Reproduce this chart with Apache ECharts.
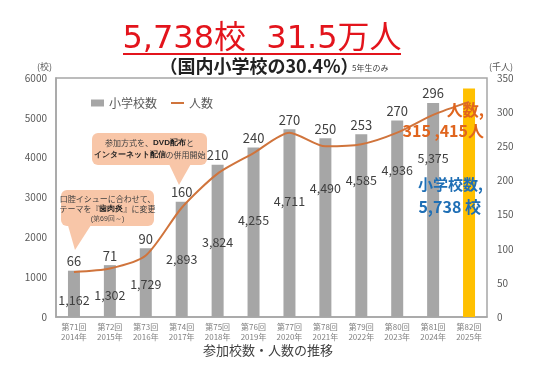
<!DOCTYPE html>
<html><head><meta charset="utf-8">
<script src="https://cdn.jsdelivr.net/npm/echarts@6/dist/echarts.min.js"></script>
<style>html,body{margin:0;padding:0;background:#fff}#c{width:536px;height:371px}</style>
</head><body><div id="c"></div>
<script>
const rounds = ['第71回','第72回','第73回','第74回','第75回','第76回','第77回','第78回','第79回','第80回','第81回','第82回'];
const years = ['2014年','2015年','2016年','2017年','2018年','2019年','2020年','2021年','2022年','2023年','2024年','2025年'];
const schools = [1162,1302,1729,2893,3824,4255,4711,4490,4585,4936,5375,5738];
const people = [66,71,90,160,210,240,270,250,253,270,296,315];
const leftTicks = {min:0, max:6000, interval:1000};
const rightTicks = {min:0, max:350, interval:50};

// layout only: vertical offsets (px) of the school-count labels below each bar top
const schoolLabelDy = [29,29,35,57,77,72,71,49,45,49,55,0];

const font = '"Noto Sans CJK JP", "Noto Sans", sans-serif';
const titleFont = '"DejaVu Sans", "Noto Sans CJK JP", sans-serif';
const cats = rounds.map((r,i)=>r+'\n'+years[i]);
const last = schools.length-1;

const barData = schools.map((v,i)=>({
  value:v,
  itemStyle:{color: i===last ? '#FFC000' : '#A6A6A6'},
  label:{show: i!==last}
}));
const overlayData = schools.map((v,i)=>({
  value:v,
  label:{show: i!==last, offset:[0, schoolLabelDy[i]+7]}
}));

const chart = echarts.init(document.getElementById('c'));
chart.setOption({
  animation:false,
  textStyle:{fontFamily:font},
  grid:{left:56, right:49, top:78, bottom:54, show:true, borderColor:'#A6A6A6', borderWidth:1.5},
  legend:{
    left:86, top:92, itemWidth:13, itemHeight:7, itemGap:14,
    textStyle:{fontSize:12, color:'#595959', fontFamily:font},
    data:[{name:'小学校数', icon:'rect'}, {name:'人数', icon:'path://M0,0H20V3H0Z'}]
  },
  xAxis:{
    type:'category', data:cats,
    axisTick:{show:false},
    axisLine:{lineStyle:{color:'#A6A6A6', width:1.5}},
    axisLabel:{fontSize:8, color:'#7F7F7F', lineHeight:10, margin:5, interval:0}
  },
  yAxis:[
    {type:'value', min:leftTicks.min, max:leftTicks.max, interval:leftTicks.interval,
     name:'(校)', nameGap:7, nameTextStyle:{fontSize:9, color:'#595959', align:'right', padding:[0,4,0,0]},
     splitLine:{show:false}, axisLine:{show:true, lineStyle:{color:'#A6A6A6', width:1.5}},
     axisTick:{show:false}, axisLabel:{fontSize:10, color:'#595959', margin:9, formatter:v=>String(v)}},
    {type:'value', min:rightTicks.min, max:rightTicks.max, interval:rightTicks.interval,
     name:'(千人)', nameGap:7, nameTextStyle:{fontSize:9, color:'#595959', align:'left', padding:[0,0,0,2]},
     splitLine:{show:false}, axisLine:{show:false}, axisTick:{show:false},
     axisLabel:{fontSize:10, color:'#595959', margin:10}}
  ],
  series:[
    {name:'小学校数', type:'bar', yAxisIndex:0, barWidth:12, data:barData, z:2,
     itemStyle:{color:'#A6A6A6'},
     label:{position:'top', distance:3, fontSize:13, color:'#404040',
            formatter:p=>String(people[p.dataIndex])}},
    {name:'schoolLabel', type:'bar', yAxisIndex:0, barWidth:12, barGap:'-100%', data:overlayData, z:3,
     silent:true, itemStyle:{color:'transparent'},
     label:{position:'top', distance:0, fontSize:12.5, color:'#404040',
            formatter:p=>schools[p.dataIndex].toLocaleString('en-US')}},
    {name:'人数', type:'line', yAxisIndex:1, data:people, smooth:0.25, symbol:'none', z:4,
     lineStyle:{color:'#D0743C', width:2}, itemStyle:{color:'#D0743C'}}
  ],
  graphic:[
    {type:'text', x:262, y:40, z:10, style:{text:'5,738校  31.5万人', fontSize:32, fontFamily:titleFont, fill:'#E3141C', align:'center', verticalAlign:'middle'}},
    {type:'line', z:10, shape:{x1:123, y1:54, x2:401, y2:54}, style:{stroke:'#E3141C', lineWidth:2}},
    {type:'text', x:259, y:66, z:10, style:{text:'（国内小学校の30.4%）', fontSize:18, fontWeight:'bold', fontFamily:font, fill:'#222', align:'center', verticalAlign:'middle'}},
    {type:'text', x:352, y:68, z:10, style:{text:'5年生のみ', fontSize:8, fontFamily:font, fill:'#404040', align:'left', verticalAlign:'middle'}},
    // callout 2
    {type:'polygon', z:20, shape:{points:[[168,162],[192,162],[179,185]]}, style:{fill:'#F8C6A8'}},
    {type:'rect', z:20, shape:{x:92, y:133, width:115, height:32, r:6}, style:{fill:'#F8C6A8'}},
    {type:'text', z:21, x:149.5, y:149, style:{
      text:'参加方式を、{b|DVD配布}と\n{b|インターネット配信}の併用開始',
      fontSize:8, fontFamily:font, fill:'#404040', align:'center', verticalAlign:'middle', lineHeight:12,
      rich:{b:{fontWeight:'bold', fontSize:8, fill:'#222', lineHeight:12}}}},
    // callout 1
    {type:'polygon', z:20, shape:{points:[[67,222],[93,222],[75,250]]}, style:{fill:'#F8C6A8'}},
    {type:'rect', z:20, shape:{x:61, y:190, width:93, height:36, r:6}, style:{fill:'#F8C6A8'}},
    {type:'text', z:21, x:107.5, y:209, style:{
      text:'口腔イシューに合わせて、\nテーマを『{b|歯肉炎}』に変更\n{s|(第69回～)}',
      fontSize:8, fontFamily:font, fill:'#404040', align:'center', verticalAlign:'middle', lineHeight:10,
      rich:{b:{fontWeight:'bold', fontSize:8, fill:'#222', lineHeight:10}, s:{fontSize:7, fill:'#404040', lineHeight:10}}}},
    // right annotations
    {type:'text', z:22, x:484, y:110, style:{text:'人数,', fontSize:16, fontWeight:'bold', fontFamily:font, fill:'#E0651E', align:'right', verticalAlign:'middle'}},
    {type:'text', z:22, x:484, y:131, style:{text:'315 ,415人', fontSize:16, fontWeight:'bold', fontFamily:font, fill:'#E0651E', align:'right', verticalAlign:'middle'}},
    {type:'text', z:22, x:483, y:184, style:{text:'小学校数,', fontSize:15, fontWeight:'bold', fontFamily:font, fill:'#1F6FB5', align:'right', verticalAlign:'middle'}},
    {type:'text', z:22, x:481, y:207, style:{text:'5,738 校', fontSize:16, fontWeight:'bold', fontFamily:font, fill:'#1F6FB5', align:'right', verticalAlign:'middle'}},
    {type:'text', z:10, x:268, y:350, style:{text:'参加校数・人数の推移', fontSize:13, fontFamily:font, fill:'#404040', align:'center', verticalAlign:'middle'}}
  ]
});
</script></body></html>
